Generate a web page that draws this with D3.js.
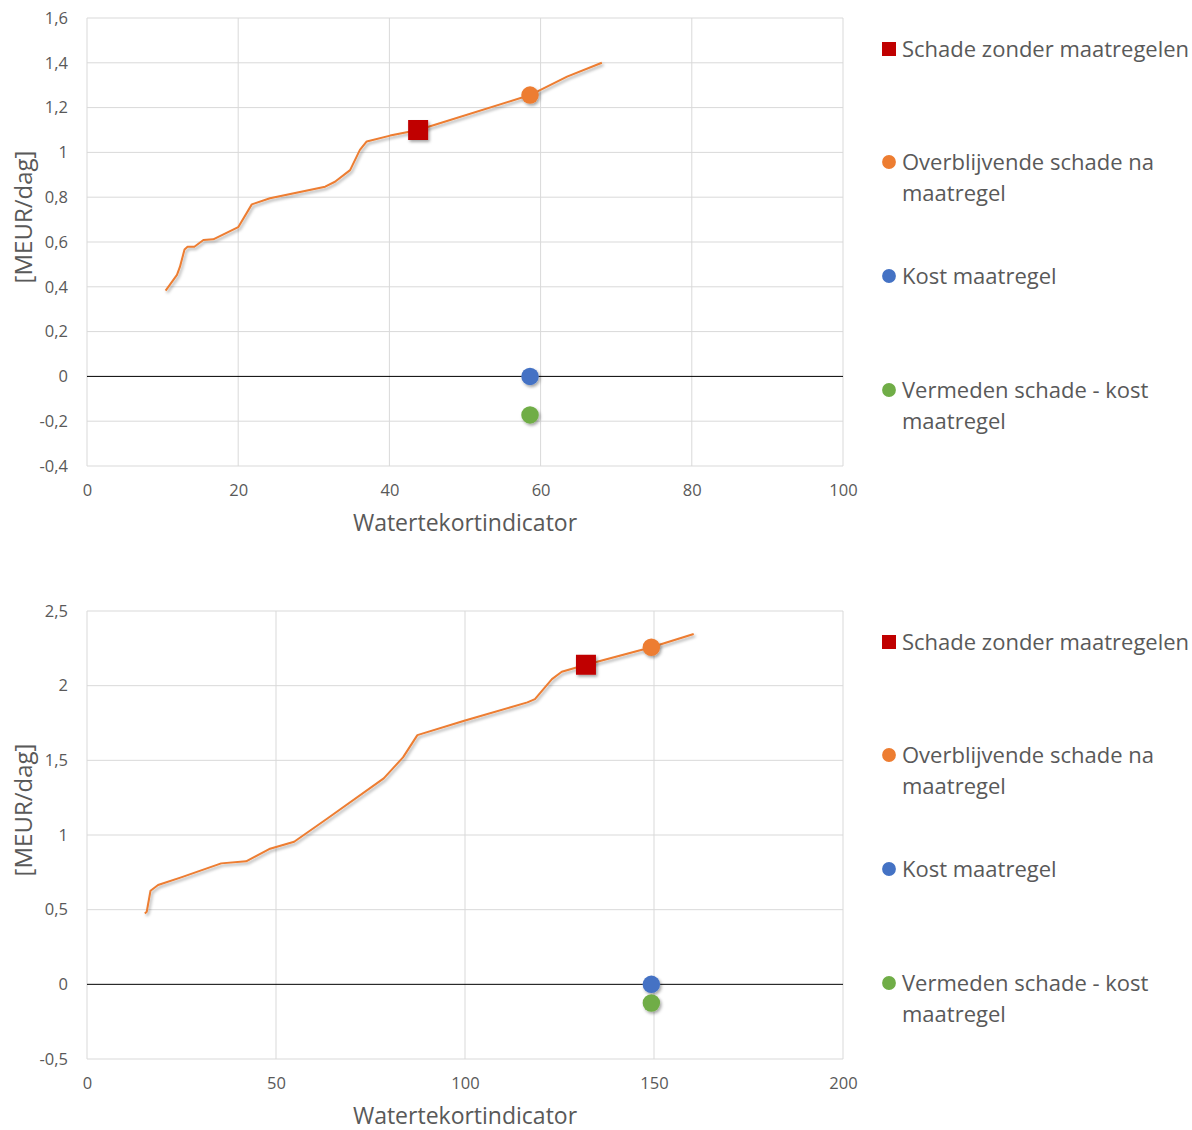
<!DOCTYPE html>
<html>
<head>
<meta charset="utf-8">
<script src="https://cdn.jsdelivr.net/npm/d3@7"></script>
<style>
  body { margin: 0; background: #fff; }
  svg text { font-family: "Open Sans", Calibri, sans-serif; fill: #595959; }
</style>
</head>
<body>
<div id="chart"></div>
<script>
// Chart 1 (top): curve of damage vs indicator
const curve1X = [10.4, 11.9, 12.3, 12.9, 13.3, 14.2, 15.4, 16.7, 20.0, 21.8, 24.2, 31.5, 32.8, 34.8, 36.1, 37.0, 40.1, 43.8, 58.6, 63.5, 68.1];
const curve1Y = [0.383, 0.453, 0.49, 0.567, 0.579, 0.579, 0.609, 0.612, 0.666, 0.768, 0.795, 0.847, 0.869, 0.921, 1.011, 1.049, 1.075, 1.10, 1.256, 1.338, 1.40];
const points1X = [43.8, 58.6, 58.6, 58.6];
const points1Y = [1.10, 1.256, 0.0, -0.172];
const yTicks1 = [-0.4, -0.2, 0, 0.2, 0.4, 0.6, 0.8, 1, 1.2, 1.4, 1.6];
const xTicks1 = [0, 20, 40, 60, 80, 100];

// Chart 2 (bottom)
const curve2X = [15.3, 15.8, 16.8, 18.8, 24.9, 35.5, 42.1, 48.2, 54.8, 63.4, 78.5, 83.6, 87.4, 99.8, 116.5, 118.5, 123.0, 125.6, 132.0, 149.3, 160.5];
const curve2Y = [0.475, 0.486, 0.627, 0.665, 0.716, 0.81, 0.824, 0.906, 0.955, 1.107, 1.379, 1.52, 1.669, 1.765, 1.888, 1.91, 2.044, 2.093, 2.14, 2.257, 2.346];
const points2X = [132.0, 149.3, 149.3, 149.3];
const points2Y = [2.14, 2.257, 0.0, -0.125];
const yTicks2 = [-0.5, 0, 0.5, 1, 1.5, 2, 2.5];
const xTicks2 = [0, 50, 100, 150, 200];

const seriesColors = ["#C00000", "#ED7D31", "#4472C4", "#70AD47"];
const seriesShapes = ["square", "circle", "circle", "circle"];
const legendLines = [["Schade zonder maatregelen"], ["Overblijvende schade na", "maatregel"], ["Kost maatregel"], ["Vermeden schade - kost", "maatregel"]];

const W = 1192, H = 1130;
const LINE_COLOR = "#ED7D31";
const GRID_COLOR = "#d9d9d9";

const svg = d3.select("#chart").append("svg")
  .attr("width", W).attr("height", H);

const defs = svg.append("defs");
defs.append("filter").attr("id", "shadow")
  .attr("x", "-50%").attr("y", "-50%").attr("width", "200%").attr("height", "200%")
  .append("feDropShadow")
  .attr("dx", 1.5).attr("dy", 2).attr("stdDeviation", 1.6)
  .attr("flood-color", "#000").attr("flood-opacity", 0.35);

const fmt = d => String(d).replace(".", ",");

function drawChart(top, curveX, curveY, ptsX, ptsY, xTicks, yTicks) {
  const left = 87, right = 843, plotTop = top + 18, plotBottom = top + 466;
  const g = svg.append("g");

  const x = d3.scaleLinear()
    .domain([xTicks[0], xTicks[xTicks.length - 1]])
    .range([left, right]);
  const y = d3.scaleLinear()
    .domain([yTicks[0], yTicks[yTicks.length - 1]])
    .range([plotBottom, plotTop]);

  // gridlines
  g.append("g").selectAll("line")
    .data(yTicks.filter(d => d !== 0))
    .enter().append("line")
    .attr("x1", left).attr("x2", right)
    .attr("y1", d => y(d)).attr("y2", d => y(d))
    .attr("stroke", GRID_COLOR).attr("stroke-width", 1);
  g.append("g").selectAll("line")
    .data(xTicks)
    .enter().append("line")
    .attr("x1", d => x(d)).attr("x2", d => x(d))
    .attr("y1", plotTop).attr("y2", plotBottom)
    .attr("stroke", GRID_COLOR).attr("stroke-width", 1);

  // zero line
  g.append("line")
    .attr("x1", left).attr("x2", right)
    .attr("y1", y(0)).attr("y2", y(0))
    .attr("stroke", "#000").attr("stroke-width", 1);

  // axes (labels only)
  const yAxis = d3.axisLeft(y).tickValues(yTicks).tickFormat(fmt).tickSize(0).tickPadding(19);
  g.append("g").attr("transform", "translate(" + left + ",0)").call(yAxis)
    .call(a => a.select(".domain").remove())
    .selectAll("text")
    .style("font-family", "'Open Sans', sans-serif")
    .style("font-size", "16.5px").attr("fill", "#595959");

  const xAxis = d3.axisBottom(x).tickValues(xTicks).tickFormat(fmt).tickSize(0).tickPadding(18);
  g.append("g").attr("transform", "translate(0," + plotBottom + ")").call(xAxis)
    .call(a => a.select(".domain").remove())
    .selectAll("text")
    .style("font-family", "'Open Sans', sans-serif")
    .style("font-size", "16.5px").attr("fill", "#595959");

  // axis titles
  g.append("text")
    .attr("x", (left + right) / 2).attr("y", top + 531)
    .attr("text-anchor", "middle")
    .style("font-size", "23px")
    .text("Watertekortindicator");
  g.append("text")
    .attr("transform", "translate(32," + (top + 217) + ") rotate(-90)")
    .attr("text-anchor", "middle")
    .style("font-size", "24px")
    .text("[MEUR/dag]");

  // curve
  const lineData = curveX.map((d, i) => [d, curveY[i]]);
  const line = d3.line()
    .x(d => x(d[0])).y(d => y(d[1]))
    .curve(d3.curveLinear);
  g.append("path")
    .datum(lineData)
    .attr("d", line)
    .attr("fill", "none")
    .attr("stroke", LINE_COLOR)
    .attr("stroke-width", 2)
    .attr("stroke-linejoin", "round")
    .attr("filter", "url(#shadow)");

  // markers
  const pts = ptsX.map((d, i) => ({ x: d, y: ptsY[i], i: i }));
  g.selectAll("path.marker")
    .data(pts)
    .enter().append("path")
    .attr("class", "marker")
    .attr("transform", d => "translate(" + x(d.x) + "," + y(d.y) + ")")
    .attr("d", d => seriesShapes[d.i] === "square"
      ? d3.symbol(d3.symbolSquare, 400)()
      : d3.symbol(d3.symbolCircle, 240)())
    .attr("fill", d => seriesColors[d.i])
    .attr("filter", "url(#shadow)");

  // legend
  const legendY = [49, 162, 276, 390];
  const leg = g.append("g");
  legendLines.forEach((lines, i) => {
    const cy = top + legendY[i];
    leg.append("path")
      .attr("transform", "translate(889," + cy + ")")
      .attr("d", seriesShapes[i] === "square"
        ? d3.symbol(d3.symbolSquare, 196)()
        : d3.symbol(d3.symbolCircle, 150)())
      .attr("fill", seriesColors[i]);
    lines.forEach((t, j) => {
      leg.append("text")
        .attr("x", 902).attr("y", cy + 8 + j * 31)
        .style("font-size", "22px")
        .text(t);
    });
  });
}

drawChart(0, curve1X, curve1Y, points1X, points1Y, xTicks1, yTicks1);
drawChart(593, curve2X, curve2Y, points2X, points2Y, xTicks2, yTicks2);
</script>
</body>
</html>
